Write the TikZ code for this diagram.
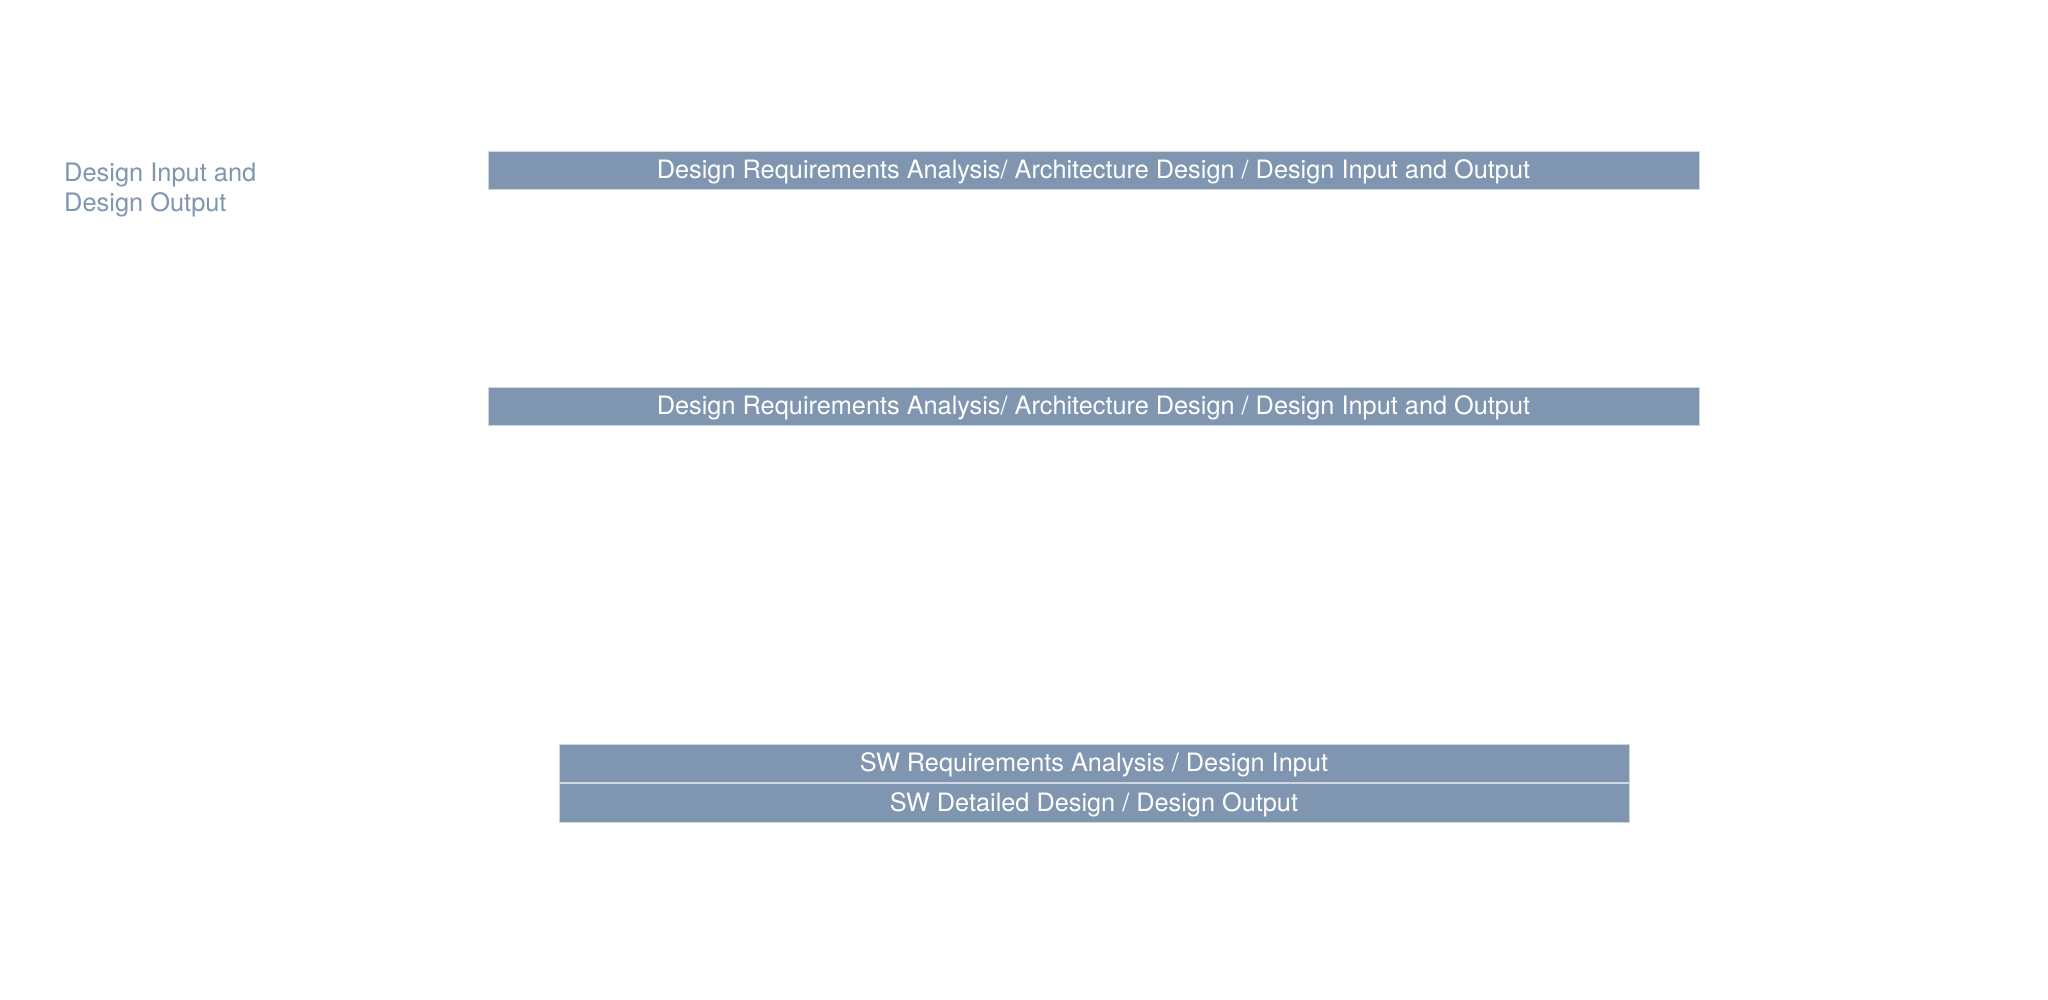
\documentclass[tikz,border=0pt]{standalone}
\usepackage{fontspec}
\setmainfont{TeX Gyre Heros}
\usetikzlibrary{positioning}
\definecolor{slate}{RGB}{127,149,176}
\definecolor{slateline}{RGB}{205,215,228}

\begin{document}
\begin{tikzpicture}[x=1pt,y=-1pt,
	phase/.style={fill=slate, draw=slateline, line width=1pt, text=white, inner sep=0pt,
		text depth=2.6pt, font=\fontsize{25.3}{28}\selectfont},
	side/.style={text=slate, align=left, inner sep=0pt, font=\fontsize{25.4}{30}\selectfont}]
	\useasboundingbox (0,0) rectangle (2048,1000);
	\node[side, anchor=north west] (sidelabel) at (64,163.2) {Design Input and\\Design Output};
	\node[phase, minimum width=1211pt, minimum height=37.5pt] (sysarch) at (1093.5,170.4)
		{Design Requirements Analysis/ Architecture Design / Design Input and Output};
	\node[phase, minimum width=1211pt, minimum height=38pt] (subarch) at (1093.5,406.3)
		{Design Requirements Analysis/ Architecture Design / Design Input and Output};
	\node[phase, minimum width=1070pt, minimum height=38.4pt] (swreq) at (1094,763.5)
		{SW Requirements Analysis / Design Input};
	\node[phase, minimum width=1070pt, minimum height=38.4pt, below=0pt of swreq] (swdes)
		{SW Detailed Design / Design Output};
\end{tikzpicture}
\end{document}
